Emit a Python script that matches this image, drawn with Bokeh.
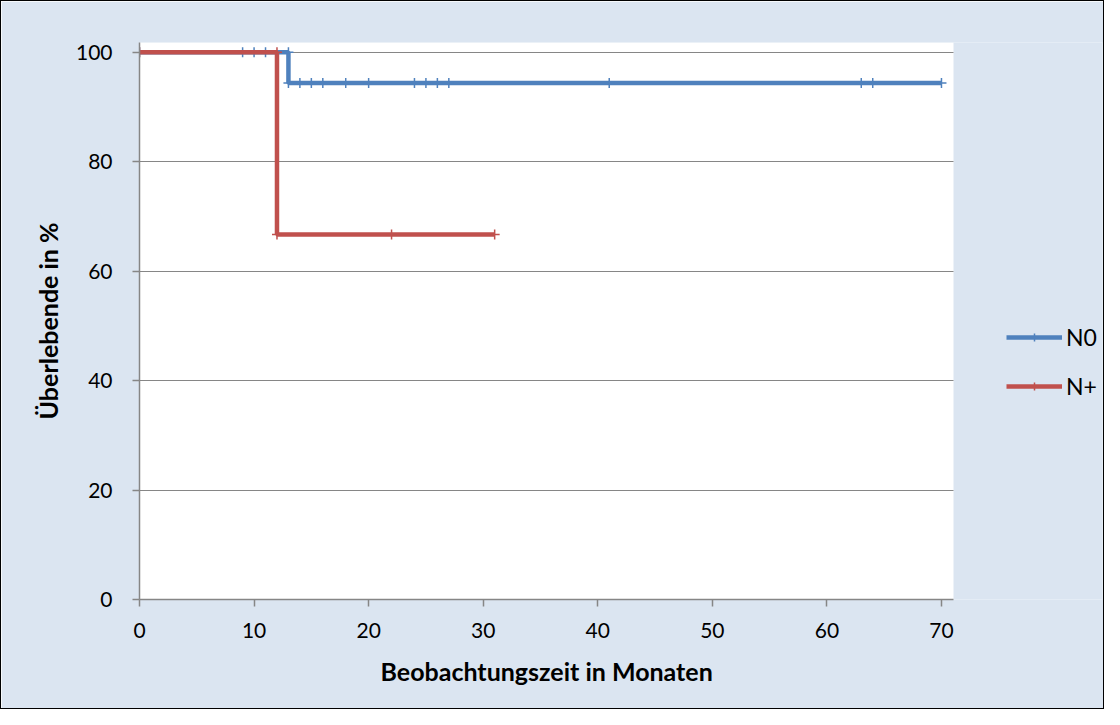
from bokeh.plotting import figure
from bokeh.models import Range1d, FixedTicker, Legend, LegendItem, BoxAnnotation, Title
from bokeh.embed import file_html
from bokeh.resources import INLINE

# Data (Kaplan-Meier steps, months / survival %)
n0_t = [0, 9, 10, 11, 13, 13, 14, 15, 16, 18, 20, 24, 25, 26, 27, 41, 63, 64, 70]
n0_s = [100, 100, 100, 100, 100, 94.4, 94.4, 94.4, 94.4, 94.4, 94.4, 94.4, 94.4,
        94.4, 94.4, 94.4, 94.4, 94.4, 94.4]
np_t = [0, 12, 12, 22, 31]
np_s = [100, 100, 66.7, 66.7, 66.7]
series_names = ["N0", "N+"]
x_ticks = [0, 10, 20, 30, 40, 50, 60, 70]
y_ticks = [0, 20, 40, 60, 80, 100]
x_title = "Beobachtungszeit in Monaten"
y_title = "Überlebende in %"

# plot-area extents (axis ranges of the original chart)
X_MAX = 71.05
Y_MAX = 101.8

BLUE = "#4F81BD"
RED = "#C0504D"
BG = "#DBE5F1"
FONT = "Lato"

PLOT_W = 814          # pixel width of the white plot area
FRAME_W = 963         # frame also holds the legend area on the right

p = figure(frame_width=FRAME_W, frame_height=557, output_backend="svg",
           toolbar_location=None,
           x_range=Range1d(0, X_MAX * FRAME_W / PLOT_W), y_range=Range1d(0, Y_MAX),
           min_border_left=138, min_border_right=1, min_border_top=41,
           min_border_bottom=109)
p.border_fill_color = BG
p.background_fill_color = BG
p.outline_line_color = None
p.styles = {"border": "1px solid black"}

plot_area = BoxAnnotation(left=0, right=X_MAX, bottom=0, top=Y_MAX,
                          fill_color="white", fill_alpha=1, line_color=None,
                          level="image")
p.add_layout(plot_area)

l1 = p.line(n0_t, n0_s, line_color=BLUE, line_width=4.5)
m1 = p.scatter(n0_t, n0_s, marker="cross", size=10, line_color=BLUE, line_width=1.5)
l2 = p.line(np_t, np_s, line_color=RED, line_width=4.5)
m2 = p.scatter(np_t, np_s, marker="cross", size=10, line_color=RED, line_width=1.5)

for ax in (p.xaxis[0], p.yaxis[0]):
    ax.axis_line_color = "#868686"
    ax.axis_line_width = 1.5
    ax.major_tick_line_color = "#868686"
    ax.major_tick_line_width = 1.5
    ax.major_tick_out = 7
    ax.major_tick_in = 0
    ax.minor_tick_line_color = None
    ax.major_label_text_font = FONT
    ax.major_label_text_font_size = "21px"
    ax.major_label_text_color = "black"
    ax.axis_label_text_font = FONT
    ax.axis_label_text_font_size = "25px"
    ax.axis_label_text_font_style = "bold"
    ax.axis_label_text_color = "black"

p.xaxis[0].ticker = FixedTicker(ticks=x_ticks)
p.yaxis[0].ticker = FixedTicker(ticks=y_ticks)
p.xaxis[0].bounds = (0, X_MAX)
p.yaxis[0].axis_label = y_title
p.xaxis[0].major_label_standoff = 16
p.yaxis[0].major_label_standoff = 20
p.yaxis[0].axis_label_standoff = 10

# x-axis title, centred under the white plot area (not the wider frame)
xt = Title(text=x_title, align="left", offset=241, vertical_align="top",
           standoff=30, text_font=FONT, text_font_size="25px",
           text_font_style="bold", text_color="black")
p.add_layout(xt, "below")

p.xgrid.grid_line_color = None
p.ygrid.grid_line_color = "#868686"
p.ygrid.grid_line_width = 1.2
p.ygrid[0].cross_bounds = (0, X_MAX)

legend = Legend(items=[LegendItem(label=series_names[0], renderers=[l1, m1]),
                       LegendItem(label=series_names[1], renderers=[l2, m2])],
                location=(867, 199))
legend.background_fill_alpha = 0
legend.border_line_color = None
legend.padding = 0
legend.margin = 0
legend.glyph_width = 56
legend.glyph_height = 20
legend.label_height = 20
legend.spacing = 21
legend.label_standoff = 4
legend.label_text_font = FONT
legend.label_text_font_size = "23px"
legend.label_text_color = "black"
p.add_layout(legend, "center")

open("out.html", "w").write(file_html(p, INLINE))
